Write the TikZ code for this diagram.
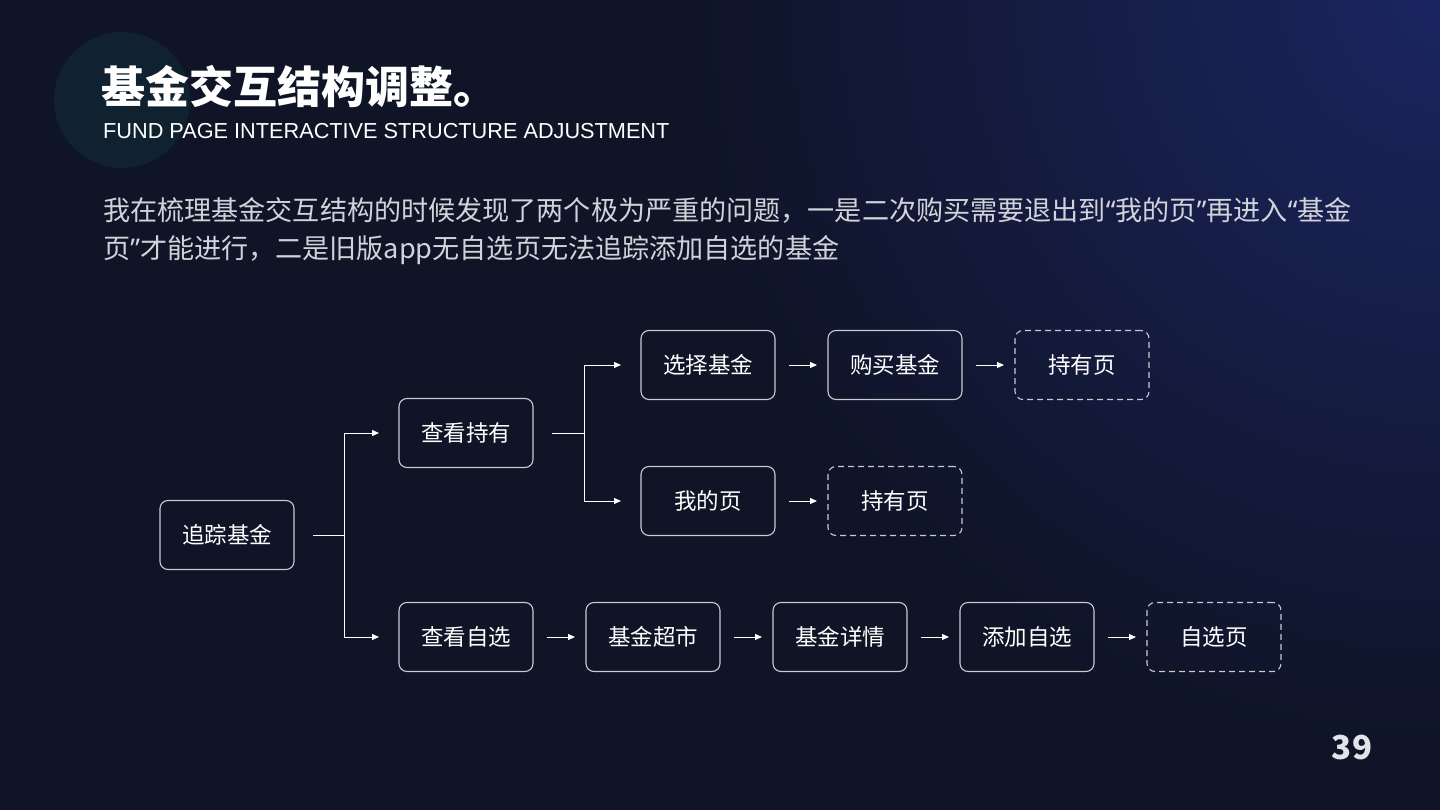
\documentclass[tikz,border=0pt]{standalone}
\usepackage{fontspec}
\setmainfont{Noto Sans CJK SC}
\newfontfamily\titlefont{Noto Sans CJK SC Black}
\newfontfamily\latinfont{Liberation Sans}
\newfontfamily\quotefont{Noto Sans}
\newcommand{\qmark}[1]{{\quotefont #1}}
\usetikzlibrary{arrows.meta,positioning}
\definecolor{bgdark}{HTML}{0F1427}
\definecolor{bgblue}{HTML}{1B2560}
\definecolor{halo}{HTML}{12383F}
\definecolor{frame}{HTML}{C9CAD0}
\definecolor{bodytext}{HTML}{D2D3DA}
\definecolor{pagegray}{HTML}{E2E3E8}
\tikzset{
    >={Triangle[length=7pt,width=6pt]},
    boks/.style={
           rectangle,
           rounded corners=8pt,
           draw=frame, line width=1.1pt,
           minimum width=134pt,
           minimum height=69pt,
           inner sep=0pt, outer sep=0pt,
           text=white,
           font=\fontsize{22.5}{22.5}\selectfont},
    tom/.style={
           boks,
           dash pattern=on 6pt off 4pt},
    pil/.style={
           ->,
           draw=white, line width=1pt,
           shorten <=14pt, shorten >=11pt},
    gren/.style={
           ->,
           draw=white, line width=1pt,
           shorten <=19pt, shorten >=20pt}
}
\begin{document}
\begin{tikzpicture}[x=1pt, y=-1pt, node distance=53pt]
        \useasboundingbox (0,0) rectangle (1440,810);
        \fill[bgdark] (0,0) rectangle (1440,810);
        \begin{scope}
            \clip (0,0) rectangle (1440,810);
            \shade[inner color=bgblue, outer color=bgdark] (1440,0) circle[radius=760pt];
        \end{scope}
        \fill[halo, opacity=0.4] (122,100) circle[radius=68pt];
        % heading
        \node[anchor=west, inner sep=0pt, text=white, font=\titlefont\fontsize{44}{44}\selectfont] (title) at (101,86) {基金交互结构调整。};
        \node[anchor=west, inner sep=0pt, text=white, font=\latinfont\fontsize{21.7}{21.7}\selectfont] (subtitle) at (103,131) {FUND PAGE INTERACTIVE STRUCTURE ADJUSTMENT};
        \node[anchor=west, inner sep=0pt, text=bodytext, font=\fontsize{27.1}{27.1}\selectfont] (line1) at (103,210) {我在梳理基金交互结构的时候发现了两个极为严重的问题，一是二次购买需要退出到\qmark{“}我的页\qmark{”}再进入\qmark{“}基金};
        \node[anchor=west, inner sep=0pt, text=bodytext, font=\fontsize{27.1}{27.1}\selectfont] (line2) at (103,250) {页\qmark{”}才能进行，二是旧版app无自选页无法追踪添加自选的基金};
        % flow
        \node[boks] (trace) at (227,535) {追踪基金};
        \node[boks, above right=33pt and 105pt of trace] (hold) {查看持有};
        \node[boks, below right=33pt and 105pt of trace] (look) {查看自选};
        \node[boks, right=108pt of hold, yshift=68pt] (pick) {选择基金};
        \node[boks, right=of pick] (buy) {购买基金};
        \node[tom, right=of buy] (held) {持有页};
        \node[boks, right=108pt of hold, yshift=-68pt] (mine) {我的页};
        \node[tom, right=of mine] (heldb) {持有页};
        \node[boks, right=of look] (market) {基金超市};
        \node[boks, right=of market] (detail) {基金详情};
        \node[boks, right=of detail] (addfav) {添加自选};
        \node[tom, right=of addfav] (favpage) {自选页};
        \draw[gren] (trace.east) -- ++(50,0) |- (hold.west);
        \draw[gren] (trace.east) -- ++(50,0) |- (look.west);
        \draw[gren] (hold.east) -- ++(51,0) |- (pick.west);
        \draw[gren] (hold.east) -- ++(51,0) |- (mine.west);
        \draw[pil] (pick) -- (buy);
        \draw[pil] (buy) -- (held);
        \draw[pil] (mine) -- (heldb);
        \draw[pil] (look) -- (market);
        \draw[pil] (market) -- (detail);
        \draw[pil] (detail) -- (addfav);
        \draw[pil] (addfav) -- (favpage);
        \node[text=pagegray, inner sep=0pt, font=\titlefont\fontsize{33}{33}\selectfont] (pagenum) at (1352,748) {39};
\end{tikzpicture}
\end{document}
